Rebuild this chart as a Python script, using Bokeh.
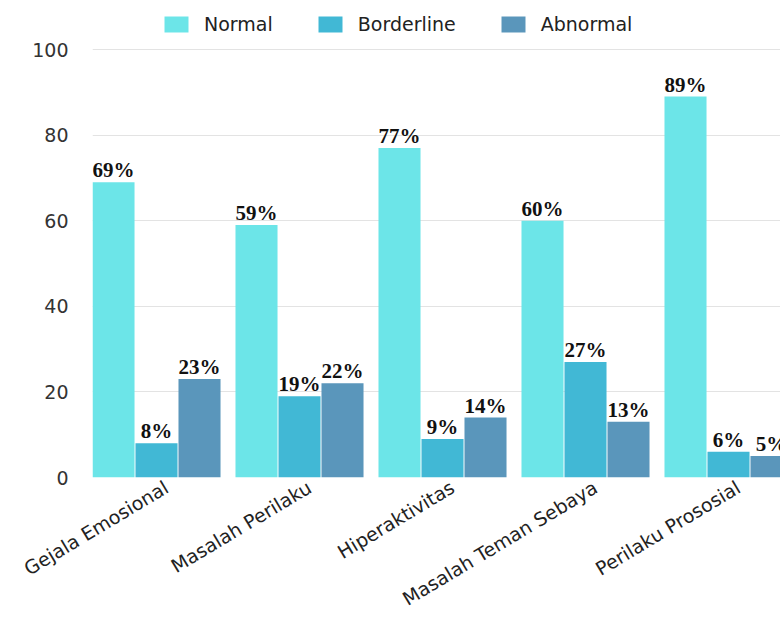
import math
from bokeh.plotting import figure
from bokeh.models import (ColumnDataSource, Range1d, FixedTicker, SingleIntervalTicker,
                          CustomJSTickFormatter, Legend, LegendItem)
from bokeh.transform import dodge
from bokeh.core.properties import value
from bokeh.embed import file_html
from bokeh.resources import INLINE

# ---- data ----
categories = ["Gejala Emosional", "Masalah Perilaku", "Hiperaktivitas",
              "Masalah Teman Sebaya", "Perilaku Prososial"]
normal = [69, 59, 77, 60, 89]
borderline = [8, 19, 9, 27, 6]
abnormal = [23, 22, 14, 13, 5]
series_names = ["Normal", "Borderline", "Abnormal"]
colors = ["#6ce5e8", "#41b8d5", "#5a96bb"]

SANS = "DejaVu Sans"
SERIF = "Liberation Serif"

p = figure(width=780, height=624, output_backend="svg", toolbar_location=None,
           x_range=Range1d(-0.4476, 4.3636), y_range=Range1d(0, 111.45),
           min_border_left=92, min_border_right=0, min_border_top=0,
           min_border_bottom=147)
p.outline_line_color = None
p.background_fill_color = "white"
p.border_fill_color = "white"

xs = list(range(len(categories)))
offsets = [-0.3007, 0.0, 0.3007]
bar_w = 0.294

items = []
for name, vals, col, off in zip(series_names, [normal, borderline, abnormal], colors, offsets):
    src = ColumnDataSource(dict(x=xs, v=vals, lbl=[f"{v}%" for v in vals]))
    r = p.vbar(x=dodge("x", off), top="v", width=bar_w, source=src,
               fill_color=col, line_color=None)
    p.text(x=dodge("x", off), y="v", text="lbl", source=src,
           text_align="center", text_baseline="bottom", y_offset=0,
           text_font=value(SERIF), text_font_style="bold",
           text_font_size="21px", text_color="#111111")
    items.append(LegendItem(label=name, renderers=[r]))

legend = Legend(items=items, orientation="horizontal", location=(69, 442),
                glyph_width=30, glyph_height=20, label_standoff=13, spacing=42,
                padding=0, margin=0, border_line_color=None,
                background_fill_alpha=0, label_text_font=SANS,
                label_text_font_size="19px", label_text_color="#222222",
                label_height=20)
p.add_layout(legend, "center")

# y axis
p.yaxis.ticker = SingleIntervalTicker(interval=20, num_minor_ticks=0)
p.yaxis.axis_line_color = None
p.yaxis.major_tick_line_color = None
p.yaxis.minor_tick_line_color = None
p.yaxis.major_tick_out = 0
p.yaxis.major_tick_in = 0
p.yaxis.major_label_standoff = 24
p.yaxis.major_label_text_font = SANS
p.yaxis.major_label_text_font_size = "19px"
p.yaxis.major_label_text_color = "#333333"

# x axis
tick_shift = 0.07
p.xaxis.ticker = FixedTicker(ticks=[x + tick_shift for x in xs])
p.xaxis.formatter = CustomJSTickFormatter(args=dict(labels=categories),
                                          code="return labels[Math.round(tick)];")
p.xaxis.axis_line_color = None
p.xaxis.major_tick_line_color = None
p.xaxis.minor_tick_line_color = None
p.xaxis.major_tick_out = 0
p.xaxis.major_tick_in = 0
p.xaxis.major_label_standoff = 8
p.xaxis.major_label_orientation = 0.54
p.xaxis.major_label_text_font = SANS
p.xaxis.major_label_text_font_size = "19px"
p.xaxis.major_label_text_color = "#222222"

p.xgrid.visible = False
p.ygrid.grid_line_color = "#e3e3e3"
p.ygrid.grid_line_width = 1

open("out.html", "w").write(file_html(p, INLINE))
